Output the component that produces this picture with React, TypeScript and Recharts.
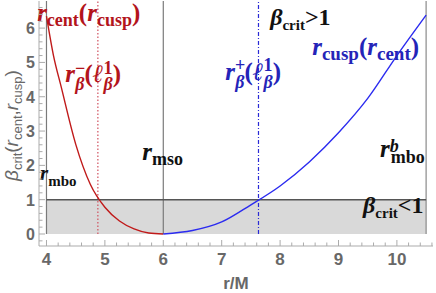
import React from "react"
import {
    LineChart,
    Line,
    XAxis,
    YAxis,
    ReferenceLine,
    ReferenceArea,
    ReferenceDot,
} from "recharts"

// red branch: r_cent(r_cusp), r in [4, 6]
const redR = [4, 4.12, 4.25, 4.5, 4.75, 5, 5.25, 5.5, 5.75, 6]
const redBeta = [6.35, 5.2, 4.3, 2.62, 1.45, 0.78, 0.38, 0.15, 0.03, 0]

// blue branch: r_cusp(r_cent), r in [6, 10.5]
const blueR = [6, 6.5, 7, 7.5, 8, 8.5, 9, 9.5, 10, 10.5]
const blueBeta = [0, 0.1, 0.35, 0.85, 1.4, 2.1, 2.95, 3.95, 5.2, 6.38]

const xLabels = [4, 5, 6, 7, 8, 9, 10]
const yLabels = [0, 1, 2, 3, 4, 5, 6]

const rMbo = 4
const rMso = 6
const rMboB = 10.5
const rBetaMinus = 4.88
const rBetaPlus = 7.63
const betaOne = 1

const X_MIN = 3.872
const X_MAX = 10.618
const Y_MIN = -0.35
const Y_MAX = 6.79

const redData = redR.map((r, i) => ({ r, v: redBeta[i] }))
const blueData = blueR.map((r, i) => ({ r, v: blueBeta[i] }))

const range = (a: number, b: number, step: number) => {
    const out: number[] = []
    for (let v = a; v <= b + 1e-9; v += step) out.push(Math.round(v * 10) / 10)
    return out
}
const xTicks = range(4, 10.6, 0.2)
const yTicks = range(-0.2, 6.6, 0.2)

const FRAME = "#ababab"
const TICK_TXT = "#686868"
const RED = "#b3141c"
const BLUE = "#2424b8"
const SANS = "'Liberation Sans', Arial, sans-serif"
const SERIF = "'Liberation Serif', 'Times New Roman', serif"

const isMajor = (v: number, labels: number[]) =>
    Math.abs(v - Math.round(v)) < 1e-6 && labels.includes(Math.round(v))

function BottomTick({ x, y, payload }: any) {
    const major = isMajor(payload.value, xLabels)
    return (
        <g>
            <line x1={x} x2={x} y1={y} y2={y - (major ? 6 : 3.5)} stroke={FRAME} />
            {major && (
                <text x={x} y={y + 19} textAnchor="middle" fill={TICK_TXT} fontSize={17} fontWeight="bold" fontFamily={SANS}>
                    {Math.round(payload.value)}
                </text>
            )}
        </g>
    )
}

function TopTick({ x, y, payload }: any) {
    const major = isMajor(payload.value, xLabels)
    return <line x1={x} x2={x} y1={y} y2={y + (major ? 6 : 3.5)} stroke={FRAME} />
}

function LeftTick({ x, y, payload }: any) {
    const major = isMajor(payload.value, yLabels)
    return (
        <g>
            <line x1={x} x2={x + (major ? 6 : 3.5)} y1={y} y2={y} stroke={FRAME} />
            {major && (
                <text x={x - 4} y={y + 6} textAnchor="end" fill={TICK_TXT} fontSize={16} fontWeight="bold" fontFamily={SANS}>
                    {Math.round(payload.value)}
                </text>
            )}
        </g>
    )
}

function RightTick({ x, y, payload }: any) {
    const major = isMajor(payload.value, yLabels)
    return <line x1={x} x2={x - (major ? 6 : 3.5)} y1={y} y2={y} stroke={FRAME} />
}

type Seg = { t: string; k?: "m" | "sub" | "sup"; it?: boolean; dx?: number }

function MathText({ x, y, segs, fill, main, sub, subOff = 5, supOff = -9 }: any) {
    let prev = 0
    return (
        <text x={x} y={y} fill={fill} fontFamily={SERIF} fontWeight="bold">
            {(segs as Seg[]).map((s, i) => {
                const k = s.k ?? "m"
                const off = k === "sub" ? subOff : k === "sup" ? supOff : 0
                const dy = off - prev
                prev = off
                return (
                    <tspan key={i} dy={dy} dx={s.dx} fontSize={k === "m" ? main : sub} fontStyle={s.it ? "italic" : "normal"}>
                        {s.t}
                    </tspan>
                )
            })}
        </text>
    )
}

// annotations (anchor = left end of text baseline, in data coordinates)
const notes = [
    {
        r: 3.84, b: 6.2, fill: RED, main: 25, sub: 18,
        segs: [{ t: "r", it: true }, { t: "cent", k: "sub" }, { t: "(" }, { t: "r", it: true }, { t: "cusp", k: "sub" }, { t: ")" }],
    },
    {
        r: 4.32, b: 4.43, fill: RED, main: 25, sub: 18, subOff: 8, supOff: -8,
        segs: [
            { t: "r", it: true }, { t: "−", k: "sup" }, { t: "β", k: "sub", it: true, dx: -10 },
            { t: "(" }, { t: "ℓ", it: true }, { t: "1", k: "sup" }, { t: "β", k: "sub", it: true, dx: -9 }, { t: ")" },
        ],
    },
    {
        r: 7.83, b: 6.09, fill: "#111", main: 24, sub: 15,
        segs: [{ t: "β", it: true }, { t: "crit", k: "sub" }, { t: ">1" }],
    },
    {
        r: 8.55, b: 5.21, fill: BLUE, main: 25, sub: 19,
        segs: [{ t: "r", it: true }, { t: "cusp", k: "sub" }, { t: "(" }, { t: "r", it: true }, { t: "cent", k: "sub" }, { t: ")" }],
    },
    {
        r: 7.06, b: 4.49, fill: BLUE, main: 25, sub: 18, subOff: 8, supOff: -9,
        segs: [
            { t: "r", it: true }, { t: "+", k: "sup" }, { t: "β", k: "sub", it: true, dx: -10 },
            { t: "(" }, { t: "ℓ", it: true }, { t: "1", k: "sup" }, { t: "β", k: "sub", it: true, dx: -9 }, { t: ")" },
        ],
    },
    {
        r: 5.64, b: 2.16, fill: "#111", main: 25, sub: 18,
        segs: [{ t: "r", it: true }, { t: "mso", k: "sub" }],
    },
    {
        r: 3.89, b: 1.57, fill: "#111", main: 21, sub: 15, subOff: 6,
        segs: [{ t: "r", it: true }, { t: "mbo", k: "sub" }],
    },
    {
        r: 9.71, b: 2.24, fill: "#111", main: 25, sub: 18, subOff: 6, supOff: -5,
        segs: [{ t: "r", it: true }, { t: "b", k: "sup", it: true }, { t: "mbo", k: "sub", dx: -8 }],
    },
    {
        r: 9.42, b: 0.61, fill: "#111", main: 24, sub: 15,
        segs: [{ t: "β", it: true }, { t: "crit", k: "sub" }, { t: "<1" }],
    },
]

function YTitle({ viewBox }: any) {
    const cx = viewBox.x + 12
    const cy = viewBox.y + viewBox.height / 2 + 2
    return (
        <g transform={`translate(${cx},${cy}) rotate(-90)`}>
            <text x={0} y={6} textAnchor="middle" fill={TICK_TXT} fontFamily={SANS}>
                <tspan fontSize={19} fontStyle="italic">β</tspan>
                <tspan fontSize={13} dy={4}>crit</tspan>
                <tspan fontSize={19} dy={-4}>(</tspan>
                <tspan fontSize={19} fontStyle="italic">r</tspan>
                <tspan fontSize={13} dy={4}>cent</tspan>
                <tspan fontSize={19} dy={-4}>,</tspan>
                <tspan fontSize={19} fontStyle="italic">r</tspan>
                <tspan fontSize={13} dy={4}>cusp</tspan>
                <tspan fontSize={19} dy={-4}>)</tspan>
            </text>
        </g>
    )
}

function XTitle({ viewBox }: any) {
    return (
        <text x={viewBox.x + viewBox.width / 2} y={viewBox.y + 43} textAnchor="middle" fill={TICK_TXT} fontSize={17} fontWeight="bold" fontFamily={SANS}>
            r/M
        </text>
    )
}

export default function App() {
    return (
        <div style={{ position: "absolute", left: 0, top: 0, width: 436, height: 293, background: "#fff" }}>
            <LineChart width={436} height={293} margin={{ top: 1, right: 3, bottom: 0, left: 0 }}>
                <XAxis
                    type="number"
                    dataKey="r"
                    domain={[X_MIN, X_MAX]}
                    ticks={xTicks}
                    interval={0}
                    allowDataOverflow
                    height={47}
                    tickSize={0}
                    tickMargin={0}
                    tickLine={false}
                    axisLine={{ stroke: FRAME }}
                    tick={<BottomTick />}
                    label={<XTitle />}
                />
                <XAxis
                    xAxisId="top"
                    orientation="top"
                    type="number"
                    dataKey="r"
                    domain={[X_MIN, X_MAX]}
                    ticks={xTicks}
                    interval={0}
                    allowDataOverflow
                    height={0}
                    tickSize={0}
                    tickMargin={0}
                    tickLine={false}
                    axisLine={{ stroke: "#e8e8e8" }}
                    tick={<TopTick />}
                />
                <YAxis
                    type="number"
                    domain={[Y_MIN, Y_MAX]}
                    ticks={yTicks}
                    interval={0}
                    allowDataOverflow
                    width={39}
                    tickSize={0}
                    tickMargin={0}
                    tickLine={false}
                    axisLine={{ stroke: FRAME }}
                    tick={<LeftTick />}
                    label={<YTitle />}
                />
                <YAxis
                    yAxisId="right"
                    orientation="right"
                    type="number"
                    domain={[Y_MIN, Y_MAX]}
                    ticks={yTicks}
                    interval={0}
                    allowDataOverflow
                    width={0}
                    tickSize={0}
                    tickMargin={0}
                    tickLine={false}
                    axisLine={{ stroke: FRAME }}
                    tick={<RightTick />}
                />

                <ReferenceArea x1={rMbo} x2={rMboB} y1={0} y2={betaOne} fill="#d9d9d9" fillOpacity={1} stroke="none" />

                <ReferenceLine segment={[{ x: rMbo, y: 0 }, { x: rMbo, y: Y_MAX }]} stroke="#7a7a7a" strokeWidth={1.2} />
                <ReferenceLine segment={[{ x: rMso, y: 0 }, { x: rMso, y: Y_MAX }]} stroke="#7a7a7a" strokeWidth={1.2} />
                <ReferenceLine segment={[{ x: rMboB, y: 0 }, { x: rMboB, y: Y_MAX }]} stroke="#8a8a8a" strokeWidth={1.2} />
                <ReferenceLine segment={[{ x: rMbo, y: betaOne }, { x: rMboB, y: betaOne }]} stroke="#555" strokeWidth={1.6} />
                <ReferenceLine segment={[{ x: rBetaMinus, y: 0 }, { x: rBetaMinus, y: Y_MAX }]} stroke="#d0505e" strokeWidth={1.2} strokeDasharray="1.5 2" />
                <ReferenceLine segment={[{ x: rBetaPlus, y: 0 }, { x: rBetaPlus, y: Y_MAX }]} stroke="#2a2ad6" strokeWidth={1.2} strokeDasharray="4 2 1 2" />

                <Line data={redData} dataKey="v" type="monotone" stroke="#c01a1a" strokeWidth={1.4} dot={false} isAnimationActive={false} />
                <Line data={blueData} dataKey="v" type="monotone" stroke="#2b2bf0" strokeWidth={1.4} dot={false} isAnimationActive={false} />

                {notes.map((n, i) => (
                    <ReferenceDot
                        key={i}
                        x={n.r}
                        y={n.b}
                        r={0}
                        ifOverflow="visible"
                        shape={(p: any) => (
                            <MathText x={p.cx} y={p.cy} segs={n.segs} fill={n.fill} main={n.main} sub={n.sub} subOff={(n as any).subOff} supOff={(n as any).supOff} />
                        )}
                    />
                ))}
            </LineChart>
        </div>
    )
}
